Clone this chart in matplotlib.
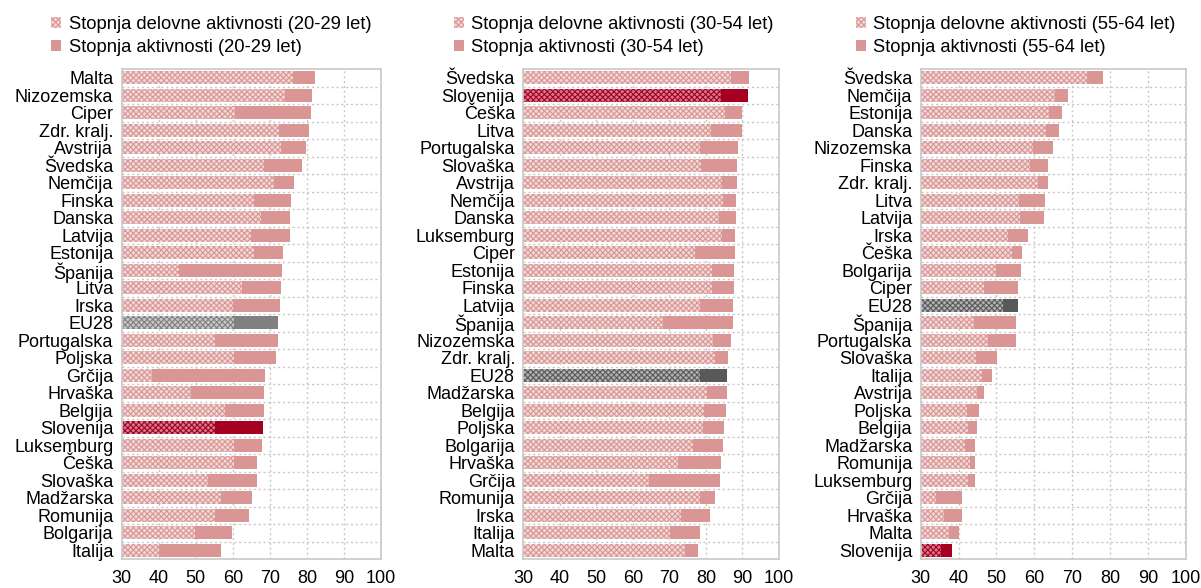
import matplotlib.pyplot as plt
from matplotlib.patches import Patch

plt.rcParams['font.family'] = ['Liberation Sans', 'DejaVu Sans']
plt.rcParams['hatch.linewidth'] = 0.8

# data: employment rate (hatched) and activity rate (solid), top to bottom
countries_1 = ['Malta', 'Nizozemska', 'Ciper', 'Zdr. kralj.', 'Avstrija', 'Švedska', 'Nemčija',
               'Finska', 'Danska', 'Latvija', 'Estonija', 'Španija', 'Litva', 'Irska', 'EU28',
               'Portugalska', 'Poljska', 'Grčija', 'Hrvaška', 'Belgija', 'Slovenija', 'Luksemburg',
               'Češka', 'Slovaška', 'Madžarska', 'Romunija', 'Bolgarija', 'Italija']
employment_1 = [76.2, 74.1, 60.7, 72.6, 73.1, 68.5, 71.1, 65.6, 67.7, 65.0, 65.6, 45.6, 62.6, 60.0,
                60.4, 55.1, 60.4, 38.1, 48.6, 57.9, 55.2, 60.4, 60.4, 53.2, 56.8, 55.2, 49.7, 40.1]
activity_1 = [82.1, 81.3, 81.0, 80.5, 79.7, 78.8, 76.4, 75.7, 75.4, 75.4, 73.5, 73.2, 73.0, 72.7,
              72.2, 72.2, 71.6, 68.7, 68.5, 68.5, 68.2, 67.9, 66.6, 66.6, 65.2, 64.4, 59.9, 56.8]

countries_2 = ['Švedska', 'Slovenija', 'Češka', 'Litva', 'Portugalska', 'Slovaška', 'Avstrija',
               'Nemčija', 'Danska', 'Luksemburg', 'Ciper', 'Estonija', 'Finska', 'Latvija',
               'Španija', 'Nizozemska', 'Zdr. kralj.', 'EU28', 'Madžarska', 'Belgija', 'Poljska',
               'Bolgarija', 'Hrvaška', 'Grčija', 'Romunija', 'Irska', 'Italija', 'Malta']
employment_2 = [87.0, 84.2, 85.3, 81.4, 78.4, 78.6, 84.3, 84.7, 83.7, 84.3, 77.1, 81.8, 81.8, 78.4,
                68.3, 82.0, 82.6, 78.4, 80.3, 79.6, 79.1, 76.4, 72.4, 64.4, 78.4, 73.2, 70.2, 74.3]
activity_2 = [91.7, 91.4, 90.0, 89.8, 88.8, 88.5, 88.5, 88.2, 88.2, 87.9, 87.9, 87.7, 87.7, 87.4,
              87.4, 86.8, 86.1, 85.8, 85.8, 85.6, 85.0, 84.7, 84.2, 83.9, 82.6, 81.0, 78.4, 77.7]

countries_3 = ['Švedska', 'Nemčija', 'Estonija', 'Danska', 'Nizozemska', 'Finska', 'Zdr. kralj.',
               'Litva', 'Latvija', 'Irska', 'Češka', 'Bolgarija', 'Ciper', 'EU28', 'Španija',
               'Portugalska', 'Slovaška', 'Italija', 'Avstrija', 'Poljska', 'Belgija', 'Madžarska',
               'Romunija', 'Luksemburg', 'Grčija', 'Hrvaška', 'Malta', 'Slovenija']
employment_3 = [74.0, 65.5, 63.9, 63.1, 59.7, 58.9, 61.0, 56.0, 56.2, 53.0, 54.0, 49.8, 46.6, 51.7,
                44.1, 47.8, 44.5, 46.1, 44.9, 42.2, 42.5, 41.7, 43.0, 42.4, 34.0, 36.1, 37.6, 35.3]
activity_3 = [78.1, 69.0, 67.4, 66.4, 64.9, 63.5, 63.5, 62.7, 62.5, 58.3, 56.8, 56.5, 55.7, 55.7,
              55.2, 55.2, 50.1, 48.8, 46.6, 45.4, 44.9, 44.3, 44.3, 44.3, 40.9, 40.9, 40.2, 38.4]

age_groups = ['20-29', '30-54', '55-64']
xticks = [30, 40, 50, 60, 70, 80, 90, 100]

PINK = '#D99694'
PINK_LIGHT = '#F2D8D7'
SLO = '#A50021'
SLO_LIGHT = '#D57A8C'
EU_DARK = ['#808080', '#595959', '#595959']
EU_LIGHT = ['#C8C8C8', '#B0B0B0', '#B0B0B0']
GRID = '#C8C8C8'

fig = plt.figure(figsize=(12.01, 5.88), dpi=100)
axes_pos = [[0.1013, 0.0493, 0.2159, 0.8333],
            [0.4357, 0.0493, 0.2129, 0.8333],
            [0.7666, 0.0493, 0.2207, 0.8333]]
legend_x = [0.032, 0.367, 0.702]

panels = [(countries_1, employment_1, activity_1),
          (countries_2, employment_2, activity_2),
          (countries_3, employment_3, activity_3)]

for k, (names, emp, act) in enumerate(panels):
    ax = fig.add_axes(axes_pos[k])
    ys = list(range(len(names)))
    for y, name, e, a in zip(ys, names, emp, act):
        if name == 'Slovenija':
            solid, light = SLO, SLO_LIGHT
        elif name == 'EU28':
            solid, light = EU_DARK[k], EU_LIGHT[k]
        else:
            solid, light = PINK, PINK_LIGHT
        ax.barh(y, a - e, left=e, height=0.74, color=solid, linewidth=0)
        ax.barh(y, e - 30, left=30, height=0.74, facecolor=light, edgecolor=solid,
                hatch='xxxxxx', linewidth=0)

    ax.set_xlim(30, 100)
    ax.set_ylim(len(names) - 0.5, -0.5)
    ax.set_xticks(xticks)
    ax.set_yticks(ys)
    ax.set_yticklabels(names, fontsize=13)
    ax.tick_params(axis='x', labelsize=13, length=0, pad=8)
    ax.tick_params(axis='y', length=0, pad=6)

    # dotted grid: vertical at ticks, horizontal between rows
    for xv in xticks[1:-1]:
        ax.axvline(xv, color=GRID, linestyle=(0, (1.5, 2)), linewidth=1, zorder=0)
    for yv in range(len(names) - 1):
        ax.axhline(yv + 0.5, color=GRID, linestyle=(0, (1.5, 2)), linewidth=1, zorder=0)
    for s in ax.spines.values():
        s.set_color(GRID)
        s.set_linewidth(1.2)

    handles = [Patch(facecolor=PINK_LIGHT, edgecolor=PINK, hatch='xxxxxx', linewidth=0),
               Patch(facecolor=PINK, linewidth=0)]
    labels = [f'Stopnja delovne aktivnosti ({age_groups[k]} let)',
              f'Stopnja aktivnosti ({age_groups[k]} let)']
    fig.legend(handles, labels, loc='upper left', bbox_to_anchor=(legend_x[k], 0.995),
               frameon=False, fontsize=13.2, handlelength=0.55, handleheight=0.55,
               handletextpad=0.4, labelspacing=0.35, borderpad=0.2)

fig.savefig('out.png', dpi=100)
